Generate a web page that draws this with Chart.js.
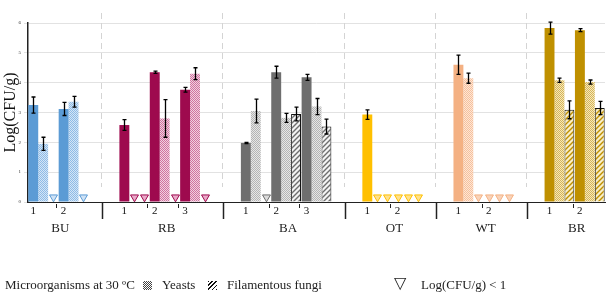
<!DOCTYPE html>
<html>
<head>
<meta charset="utf-8">
<script src="https://cdn.jsdelivr.net/npm/chart.js@4.4.1/dist/chart.umd.min.js"></script>
<style>
  body { margin: 0; background: #fff; }
  #wrap { position: relative; width: 612px; height: 299px; }
  #legend { position: absolute; left: 0; top: 277px; width: 612px; height: 18px;
    font-family: "Liberation Serif", serif; font-size: 13px; color: #222; }
  #legend span { position: absolute; top: 0; line-height: 16px; white-space: nowrap; }
  .ico { width: 9px; height: 9px; top: 4px !important; }
</style>
</head>
<body>
<div id="wrap">
  <canvas id="grafico" width="612" height="299"></canvas>
  <div id="legend">
    <span style="left:5px">Microorganisms at 30 ºC</span>
    <span class="ico" id="icoYeast" style="left:143px"></span>
    <span style="left:162px">Yeasts</span>
    <span class="ico" id="icoFungi" style="left:208px"></span>
    <span style="left:227px">Filamentous fungi</span>
    <span style="left:394px;top:-2px;font-family:'DejaVu Sans';font-size:16px">▽</span>
    <span style="left:421px">Log(CFU/g) &lt; 1</span>
  </div>
</div>
<script>
// groups and samples
var groups = ['BU', 'RB', 'BA', 'OT', 'WT', 'BR'];
var sampleLabels = [['1', '2'], ['1', '2', '3'], ['1', '2', '3'], ['1', '2'], ['1', '2'], ['1', '2']];

// Log(CFU/g) per sample, null = Log(CFU/g) < 1
var micro    = [3.25, 3.12, 2.58, 4.35, 3.76, 1.98, 4.35, 4.18, 2.93, null, 4.60, null, 5.83, 5.76];
var microErr = [0.27, 0.22, 0.18, 0.04, 0.08, 0.02, 0.20, 0.10, 0.16, 0,    0.32, 0,    0.20, 0.05];
var yeasts    = [1.95, 3.36, null, 2.80, 4.30, 3.05, 2.82, 3.20, null, null, 4.15, null, 4.08, 4.02];
var yeastsErr = [0.22, 0.18, 0,    0.63, 0.20, 0.40, 0.15, 0.27, 0,    0,    0.17, 0,    0.07, 0.07];
var fungi    = [null, null, null, null, null, null, 2.95, 2.53, null, null, null, null, 3.09, 3.15];
var fungiErr = [0,    0,    0,    0,    0,    0,    0.23, 0.25, 0,    0,    0,    0,    0.30, 0.22];

var yTicks = [0, 1, 2, 3, 4, 5, 6];

// colours per group
var strongCol = ['#5b9bd5', '#9e0a4e', '#6e6e6e', '#ffc000', '#f4b183', '#bf9000'];
var lightCol  = ['#8fbbe6', '#d0749f', '#b4b4b4', '#ffd45c', '#f6c09c', '#d8b655'];
var tintCol   = ['#d3e5f6', '#f1cfe0', '#e6e6e6', '#fff0c4', '#fde6d6', '#f3e6bd'];
var triFill   = ['#cfe2f5', '#e9a9c8', '#dcdcdc', '#ffe18f', '#f9d3b9', '#ead08a'];
var hatchBg   = ['#ffffff', '#ffffff', '#f4f4f4', '#fff6da', '#fff1e6', '#f8eec8'];

function checker(fg, bg) {
  var c = document.createElement('canvas');
  c.width = 2; c.height = 2;
  var x = c.getContext('2d');
  x.fillStyle = bg; x.fillRect(0, 0, 2, 2);
  x.fillStyle = fg; x.fillRect(0, 0, 1, 1); x.fillRect(1, 1, 1, 1);
  return x.createPattern(c, 'repeat');
}

function hatch(fg, bg) {
  var s = 5;
  var c = document.createElement('canvas');
  c.width = s; c.height = s;
  var x = c.getContext('2d');
  x.fillStyle = bg; x.fillRect(0, 0, s, s);
  x.strokeStyle = fg; x.lineWidth = 1.4;
  x.beginPath();
  x.moveTo(0, s); x.lineTo(s, 0);
  x.moveTo(-1, 1); x.lineTo(1, -1);
  x.moveTo(s - 1, s + 1); x.lineTo(s + 1, s - 1);
  x.stroke();
  return x.createPattern(c, 'repeat');
}

// build slots: samples of each group, one empty slot between groups
var slotLabels = [];
var slotGroup = [];
var sampleSlot = [];
groups.forEach(function (g, gi) {
  if (gi > 0) { slotLabels.push(''); slotGroup.push(-1); }
  sampleLabels[gi].forEach(function (s) {
    sampleSlot.push(slotLabels.length);
    slotLabels.push(s);
    slotGroup.push(gi);
  });
});

function toSlots(arr) {
  var out = slotLabels.map(function () { return null; });
  arr.forEach(function (v, i) { out[sampleSlot[i]] = v; });
  return out;
}

function colorsFor(fn) {
  return slotGroup.map(function (gi) { return gi < 0 ? 'transparent' : fn(gi); });
}

var LT1_Y = 0.16; // where the < 1 marker sits

var barSets = [
  { label: 'Microorganisms at 30 ºC', data: toSlots(micro), errs: toSlots(microErr),
    backgroundColor: colorsFor(function (g) { return strongCol[g]; }), borderWidth: 0 },
  { label: 'Yeasts', data: toSlots(yeasts), errs: toSlots(yeastsErr),
    backgroundColor: colorsFor(function (g) { return checker(lightCol[g], tintCol[g]); }), borderWidth: 0 },
  { label: 'Filamentous fungi', data: toSlots(fungi), errs: toSlots(fungiErr),
    backgroundColor: colorsFor(function (g) { return hatch(strongCol[g], hatchBg[g]); }),
    borderColor: '#111', borderWidth: 1 }
];
barSets.forEach(function (d) {
  d.categoryPercentage = 0.98;
  d.barPercentage = 1;
});

var extras = {
  id: 'extras',
  beforeDatasetsDraw: function (chart) {
    var ctx = chart.ctx, xs = chart.scales.x, area = chart.chartArea;
    ctx.save();
    ctx.strokeStyle = '#d4d4d4';
    ctx.lineWidth = 1;
    ctx.setLineDash([6, 4]);
    slotGroup.forEach(function (g, i) {
      if (g >= 0) return;
      var px = Math.round(xs.getPixelForValue(i)) - 2.5;
      ctx.beginPath(); ctx.moveTo(px, area.top - 10); ctx.lineTo(px, area.bottom - 15); ctx.stroke();
    });
    ctx.restore();
  },
  afterDatasetsDraw: function (chart) {
    var ctx = chart.ctx, ys = chart.scales.y, xs = chart.scales.x, area = chart.chartArea;
    ctx.save();
    // error bars, and < 1 markers where a bar is missing
    barSets.forEach(function (d, k) {
      var meta = chart.getDatasetMeta(k);
      d.data.forEach(function (v, i) {
        var g = slotGroup[i];
        if (g < 0) return;
        var bx = Math.round(meta.data[i].x) + 0.5;
        if (v === null) {
          ctx.fillStyle = triFill[g];
          ctx.strokeStyle = strongCol[g];
          ctx.lineWidth = 1;
          Chart.helpers.drawPoint(ctx, { pointStyle: 'triangle', rotation: 180, radius: 4.6, borderWidth: 1 },
            bx, ys.getPixelForValue(LT1_Y));
          return;
        }
        if (!d.errs[i]) return;
        var t = ys.getPixelForValue(v + d.errs[i]);
        var b = ys.getPixelForValue(v - d.errs[i]);
        ctx.strokeStyle = '#000';
        ctx.lineWidth = 1.3;
        ctx.beginPath();
        ctx.moveTo(bx, t); ctx.lineTo(bx, b);
        ctx.moveTo(bx - 2, t); ctx.lineTo(bx + 2, t);
        ctx.moveTo(bx - 2, b); ctx.lineTo(bx + 2, b);
        ctx.stroke();
      });
    });
    // group dividers and sample ticks under the axis
    ctx.strokeStyle = '#222';
    slotGroup.forEach(function (g, i) {
      if (g < 0) {
        var px = Math.round(xs.getPixelForValue(i)) - 1.5;
        ctx.lineWidth = 1.5;
        ctx.beginPath(); ctx.moveTo(px, area.bottom + 1); ctx.lineTo(px, area.bottom + 17); ctx.stroke();
      } else if (i > 0 && slotGroup[i - 1] === g) {
        var sx = Math.round((xs.getPixelForValue(i - 1) + xs.getPixelForValue(i)) / 2) - 1.5;
        ctx.lineWidth = 1;
        ctx.beginPath(); ctx.moveTo(sx, area.bottom + 2); ctx.lineTo(sx, area.bottom + 6); ctx.stroke();
      }
    });
    // group names
    ctx.fillStyle = '#222';
    ctx.font = '13px "Liberation Serif"';
    ctx.textAlign = 'center';
    ctx.textBaseline = 'middle';
    groups.forEach(function (g, gi) {
      var idx = [];
      slotGroup.forEach(function (s, i) { if (s === gi) idx.push(i); });
      var cx = (xs.getPixelForValue(idx[0]) + xs.getPixelForValue(idx[idx.length - 1])) / 2 + 2;
      ctx.fillText(g, cx, area.bottom + 27);
    });
    ctx.restore();
  }
};

var ctx = document.getElementById('grafico').getContext('2d');
var grafico = new Chart(ctx, {
  type: 'bar',
  data: { labels: slotLabels, datasets: barSets },
  plugins: [extras],
  options: {
    responsive: false,
    animation: false,
    layout: { padding: { left: 0, right: 7, top: 23, bottom: 0 } },
    plugins: { legend: { display: false }, tooltip: { enabled: false } },
    scales: {
      x: {
        type: 'category',
        offset: true,
        grid: { display: false, drawTicks: false },
        border: { display: true, color: '#222', width: 1 },
        ticks: {
          autoSkip: false, maxRotation: 0, padding: 3, labelOffset: -10,
          color: '#111', font: { family: 'Liberation Serif', size: 11 }
        },
        afterFit: function (s) { s.height = 97; }
      },
      y: {
        min: 0, max: 6,
        afterBuildTicks: function (s) { s.ticks = yTicks.map(function (v) { return { value: v }; }); },
        grid: { color: '#e2e2e2', tickLength: 4 },
        border: { display: true, color: '#222', width: 1.5 },
        ticks: { padding: 3, color: '#333', font: { family: 'Liberation Serif', size: 5 } },
        title: { display: true, text: 'Log(CFU/g)', color: '#111', padding: { top: 1, bottom: 0 },
          font: { family: 'Liberation Serif', size: 16 } },
        afterFit: function (s) { s.width = 28; }
      }
    }
  }
});

document.getElementById('icoYeast').style.background = 'repeating-conic-gradient(#444 0 25%, #fff 0 50%) 0 0 / 2px 2px';
document.getElementById('icoFungi').style.background = 'repeating-linear-gradient(-45deg, #111 0 1.2px, #fff 1.2px 3px)';
</script>
</body>
</html>
